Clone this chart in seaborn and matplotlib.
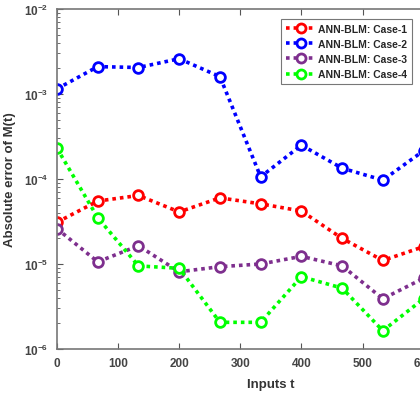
import matplotlib
matplotlib.use('Agg')
import matplotlib.pyplot as plt
import pandas as pd
import seaborn as sns

# inputs t (the right part of the original figure is cropped)
t_values = [0, 66.7, 133.3, 200, 266.7, 333.3, 400, 466.7, 533.3, 600]
case_labels = ['ANN-BLM: Case-1', 'ANN-BLM: Case-2', 'ANN-BLM: Case-3', 'ANN-BLM: Case-4']
case1 = [3.1e-5, 5.5e-5, 6.4e-5, 4.1e-5, 6.0e-5, 5.1e-5, 4.2e-5, 2.0e-5, 1.1e-5, 1.6e-5]
case2 = [1.15e-3, 2.1e-3, 2.05e-3, 2.6e-3, 1.6e-3, 1.06e-4, 2.5e-4, 1.34e-4, 9.7e-5, 2.15e-4]
case3 = [2.6e-5, 1.06e-5, 1.64e-5, 8.1e-6, 9.3e-6, 1.0e-5, 1.23e-5, 9.5e-6, 3.9e-6, 6.8e-6]
case4 = [2.3e-4, 3.5e-5, 9.5e-6, 8.9e-6, 2.06e-6, 2.06e-6, 7.1e-6, 5.2e-6, 1.64e-6, 3.9e-6]
colors = ['#ff0000', '#0000ff', '#7e2f8e', '#00ff00']

rows = []
for label, vals in zip(case_labels, [case1, case2, case3, case4]):
    for t, v in zip(t_values, vals):
        rows.append({'t': t, 'err': v, 'case': label})
df = pd.DataFrame(rows)

sns.set_style('ticks')
plt.rcParams['font.family'] = ['Liberation Sans', 'DejaVu Sans']
plt.rcParams['font.weight'] = 'bold'
plt.rcParams['mathtext.fontset'] = 'custom'
plt.rcParams['mathtext.rm'] = 'Liberation Sans:bold'
plt.rcParams['mathtext.bf'] = 'Liberation Sans:bold'
plt.rcParams['mathtext.default'] = 'bf'

fig = plt.figure(figsize=(4.2, 4.02), dpi=100)
ax = fig.add_axes([57 / 420, 52 / 402, 700 * 0.611 / 420, 340 / 402])

sns.lineplot(data=df, x='t', y='err', hue='case', palette=colors, ax=ax,
             linewidth=2.6)


def style_line(line, size=7):
    line.set_linestyle((0, (1, 1.1)))
    line.set_marker('o')
    line.set_markersize(size)
    line.set_markerfacecolor('white')
    line.set_markeredgecolor(line.get_color())
    line.set_markeredgewidth(2.0)


for line in ax.lines:
    style_line(line)

ax.set_yscale('log')
ax.set_ylim(1e-6, 1e-2)
ax.set_xlim(0, 700)
ax.set_xticks([0, 100, 200, 300, 400, 500, 600])
ax.set_xlabel('Inputs t', fontsize=9.5, fontweight='bold', color='#333333', labelpad=6)
ax.set_ylabel('Absolute error of M(t)', fontsize=9.5, fontweight='bold', color='#333333',
              labelpad=6)
ax.tick_params(which='both', direction='in', top=True, right=True, colors='#555555',
               labelcolor='#444444', labelsize=8.5)
ax.tick_params(which='major', length=4, pad=6)
ax.tick_params(which='minor', length=2)
for s in ax.spines.values():
    s.set_color('#777777')
    s.set_linewidth(1.2)

leg = ax.legend(loc='upper right', bbox_to_anchor=(412 / 420, 1 - 20 / 402),
                bbox_transform=fig.transFigure, borderaxespad=0, fontsize=7.5,
                frameon=True, fancybox=False, edgecolor='#555555', borderpad=0.45,
                labelspacing=0.5, handlelength=2.8, handletextpad=0.3)
leg.get_frame().set_linewidth(0.8)
for h in leg.legend_handles:
    style_line(h, size=6.5)
for txt in leg.get_texts():
    txt.set_fontweight('bold')

fig.savefig('out.png', dpi=100)
